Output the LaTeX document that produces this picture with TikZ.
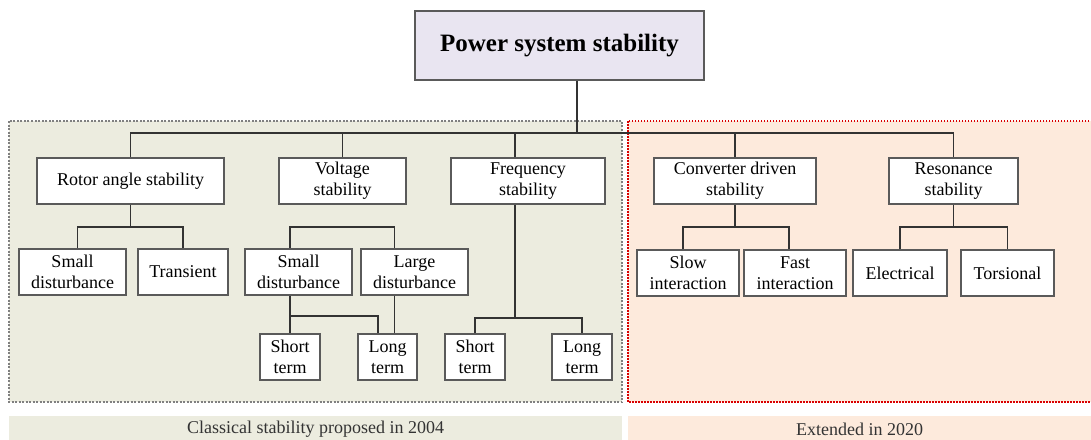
\documentclass[tikz,border=0pt]{standalone}
\usepackage{fontspec}
\setmainfont{Liberation Serif}
\usetikzlibrary{positioning}

\definecolor{classicfill}{RGB}{236,236,223}
\definecolor{extfill}{RGB}{253,234,220}
\definecolor{topfill}{RGB}{233,229,241}
\definecolor{boxline}{RGB}{90,90,90}

\begin{document}
\begin{tikzpicture}[x=1pt, y=-1pt]
  \tikzset{BoxStyle/.style = {draw          = boxline,
                              line width    = 1.2pt,
                              fill          = white,
                              align         = center,
                              inner sep     = 0pt,
                              minimum height= 46pt,
                              font          = \fontsize{18}{21}\selectfont},
           wire/.style = {draw=black!80, line width=1.2pt},
           bandtext/.style = {font=\fontsize{18}{21}\selectfont, text=black!80}}
  \useasboundingbox (0,0) rectangle (1091,439);
  %%% REGIONS %%%
  \fill[classicfill] (9,121) rectangle (622,402);
  \draw[gray, line width=1.2pt, dash pattern=on 2pt off 1.5pt] (9,121) rectangle (622,402);
  \fill[extfill] (628,121) rectangle (1095,402);
  \draw[red!85!black, line width=1.4pt, dash pattern=on 1.5pt off 1.5pt] (628,121) rectangle (1095,402);
  \fill[classicfill] (9,416) rectangle (622,445);
  \fill[extfill] (628,416) rectangle (1095,445);
  \node[bandtext](classic) at (315.5,429){Classical stability proposed in 2004};
  \node[bandtext](extended) at (859.5,429){Extended in 2020};
  %%% TOP %%%
  \node[BoxStyle, fill=topfill, minimum width=289pt, minimum height=69pt,
        font=\fontsize{25}{29}\selectfont\bfseries](power) at (559.5,45.5){Power system stability};
  %%% FIRST LEVEL %%%
  \node[BoxStyle, minimum width=187pt](rotor) at (130.5,181){Rotor angle stability};
  \node[BoxStyle, minimum width=127pt](volt) at (342.5,181){Voltage\\stability};
  \node[BoxStyle, minimum width=154pt](freq) at (528,181){Frequency\\stability};
  \node[BoxStyle, minimum width=162pt](conv) at (735,181){Converter driven\\stability};
  \node[BoxStyle, minimum width=129pt](reson) at (953.5,181){Resonance\\stability};
  %%% SECOND LEVEL %%%
  \node[BoxStyle, minimum width=107pt](rsmall) at (72.5,272){Small\\disturbance};
  \node[BoxStyle, minimum width=90pt](rtrans) at (183,272){Transient};
  \node[BoxStyle, minimum width=107pt](vsmall) at (298.5,272){Small\\disturbance};
  \node[BoxStyle, minimum width=107pt](vlarge) at (414.5,272){Large\\disturbance};
  \node[BoxStyle, minimum width=102pt](cslow) at (688,273){Slow\\interaction};
  \node[BoxStyle, minimum width=102pt](cfast) at (795,273){Fast\\interaction};
  \node[BoxStyle, minimum width=94pt](relec) at (900,273){Electrical};
  \node[BoxStyle, minimum width=93pt](rtors) at (1007.5,273){Torsional};
  %%% THIRD LEVEL %%%
  \node[BoxStyle, minimum width=60pt](vshort) at (290,357){Short\\term};
  \node[BoxStyle, minimum width=59pt](vlong) at (387.5,357){Long\\term};
  \node[BoxStyle, minimum width=60pt](fshort) at (475,357){Short\\term};
  \node[BoxStyle, minimum width=60pt](flong) at (582,357){Long\\term};
  %%% WIRES %%%
  \coordinate (bus) at (577,133);
  \coordinate (fj) at (515,318);
  \coordinate (rj) at (130.5,227);
  \coordinate (vb) at (342,227);
  \coordinate (vj) at (290,316);
  \coordinate (cj) at (735,227);
  \coordinate (sj) at (953.5,227);
  \draw[wire] (power.south -| bus) -- (bus);
  \draw[wire] (rotor.north) |- (bus) -| (reson.north);
  \draw[wire] (volt.north) -- (volt.north |- bus);
  \draw[wire] (freq.north -| fj) -- (fj |- bus);
  \draw[wire] (conv.north) -- (conv.north |- bus);
  % rotor angle
  \draw[wire] (rotor.south) -- (rj);
  \draw[wire] ([xshift=5pt]rsmall.north) |- (rj) -| (rtrans.north);
  % voltage
  \draw[wire] (vshort.north |- vsmall.north) |- (vb) -| ([xshift=7pt]vlong.north |- vlarge.north);
  \draw[wire] (vshort.north |- vsmall.south) -- (vshort.north);
  \draw[wire] (vj) -| ([xshift=-9.5pt]vlong.north);
  \draw[wire] ([xshift=7pt]vlong.north |- vlarge.south) -- ([xshift=7pt]vlong.north);
  % frequency
  \draw[wire] (freq.south -| fj) -- (fj);
  \draw[wire] (fshort.north) |- (fj) -| (flong.north);
  % converter driven
  \draw[wire] (conv.south) -- (cj);
  \draw[wire] ([xshift=-5pt]cslow.north) |- (cj) -| ([xshift=-6pt]cfast.north);
  % resonance
  \draw[wire] (reson.south) -- (sj);
  \draw[wire] (relec.north) |- (sj) -| (rtors.north);
\end{tikzpicture}
\end{document}
